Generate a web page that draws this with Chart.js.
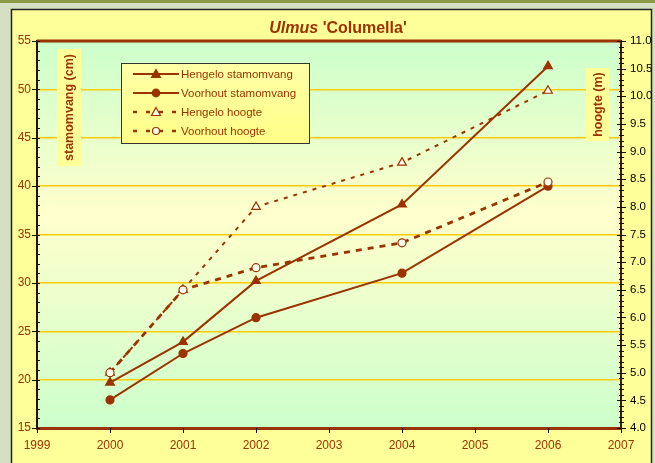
<!DOCTYPE html>
<html>
<head>
<meta charset="utf-8">
<title>Ulmus 'Columella'</title>
<script src="https://cdn.jsdelivr.net/npm/chart.js@4/dist/chart.umd.min.js"></script>
<style>
  body { margin: 0; background: #d6dfc1; }
  canvas { display: block; }
</style>
</head>
<body>
<canvas id="grafiek" width="655" height="463"></canvas>
<script>
// meetjaren en metingen per locatie
const jaren = [2000, 2001, 2002, 2004, 2006];
const hengeloStam = [19.7, 23.9, 30.2, 38.1, 52.4];     // cm
const voorhoutStam = [17.9, 22.7, 26.4, 31.0, 40.0];    // cm
const hengeloHoogte = [5.0, 6.5, 8.0, 8.8, 10.1];       // m
const voorhoutHoogte = [5.0, 6.5, 6.9, 7.35, 8.45];     // m

const xAs = { min: 1999, max: 2007, stap: 1 };
const stamAs = { min: 15, max: 55, stap: 5, klein: 1 };
const hoogteAs = { min: 4, max: 11, stap: 0.5, klein: 0.1 };

const BRUIN = '#993300';
const FONT = "'Liberation Sans', Arial, sans-serif";

function punten(waarden) {
    return jaren.map((jaar, i) => ({ x: jaar, y: waarden[i] }));
}

const series = [
    { label: 'Hengelo stamomvang', data: hengeloStam, as: 'y', vorm: 'triangle', open: false, stippel: [], dikte: 2 },
    { label: 'Voorhout stamomvang', data: voorhoutStam, as: 'y', vorm: 'circle', open: false, stippel: [], dikte: 2 },
    { label: 'Hengelo hoogte', data: hengeloHoogte, as: 'y2', vorm: 'triangle', open: true, stippel: [4, 6], dikte: 2 },
    { label: 'Voorhout hoogte', data: voorhoutHoogte, as: 'y2', vorm: 'circle', open: true, stippel: [6, 6], dikte: 2.8 }
];

// achtergrond, kader, titel, astitels, legenda en kleine streepjes
const kaderPlugin = {
    id: 'kader',
    beforeDraw(chart) {
        const ctx = chart.ctx;
        const ca = chart.chartArea;
        ctx.save();
        ctx.fillStyle = '#d6dfc1';
        ctx.fillRect(0, 0, chart.width, chart.height);
        ctx.fillStyle = '#8c9a46';
        ctx.fillRect(0, 0, chart.width, 3);

        ctx.fillStyle = '#ffff99';
        ctx.fillRect(11, 9, 641, chart.height);
        ctx.strokeStyle = '#222';
        ctx.lineWidth = 1.5;
        ctx.strokeRect(11.5, 9.5, 640, chart.height + 5);

        const grad = ctx.createLinearGradient(0, ca.top, 0, ca.bottom);
        grad.addColorStop(0, '#ccffcc');
        grad.addColorStop(0.45, '#ffffcc');
        grad.addColorStop(1, '#ccffcc');
        ctx.fillStyle = grad;
        ctx.fillRect(ca.left, ca.top, ca.right - ca.left, ca.bottom - ca.top);

        // titel: geslachtsnaam cursief
        const t1 = 'Ulmus';
        const t2 = " 'Columella'";
        ctx.fillStyle = BRUIN;
        ctx.textBaseline = 'alphabetic';
        ctx.font = 'italic bold 16px ' + FONT;
        const b1 = ctx.measureText(t1).width;
        ctx.font = 'bold 16px ' + FONT;
        const b2 = ctx.measureText(t2).width;
        let x = 338 - (b1 + b2) / 2;
        ctx.font = 'italic bold 16px ' + FONT;
        ctx.textAlign = 'left';
        ctx.fillText(t1, x, 33);
        ctx.font = 'bold 16px ' + FONT;
        ctx.fillText(t2, x + b1, 33);
        ctx.restore();
    },
    beforeDatasetsDraw(chart) {
        const ctx = chart.ctx;
        ctx.save();
        asTitel(ctx, 'stamomvang (cm)', 57, 49, 24, 117);
        asTitel(ctx, 'hoogte (m)', 586, 68, 23, 73);
        ctx.restore();
    },
    afterDraw(chart) {
        const ctx = chart.ctx;
        const ca = chart.chartArea;
        const y = chart.scales.y;
        const y2 = chart.scales.y2;
        const x = chart.scales.x;
        ctx.save();
        // bovenrand
        ctx.strokeStyle = BRUIN;
        ctx.lineWidth = 3;
        ctx.beginPath();
        ctx.moveTo(ca.left, ca.top);
        ctx.lineTo(ca.right, ca.top);
        ctx.stroke();

        ctx.strokeStyle = '#111';
        ctx.lineWidth = 1;
        ctx.beginPath();
        for (let v = stamAs.min; v <= stamAs.max + 1e-9; v += stamAs.klein) {
            const py = Math.round(y.getPixelForValue(v)) + 0.5;
            const groot = Math.abs(v / stamAs.stap - Math.round(v / stamAs.stap)) < 1e-6;
            ctx.moveTo(groot ? ca.left - 5 : ca.left, py);
            ctx.lineTo(ca.left + 3, py);
        }
        for (let i = 0; i <= Math.round((hoogteAs.max - hoogteAs.min) / hoogteAs.klein); i++) {
            const v = hoogteAs.min + i * hoogteAs.klein;
            const py = Math.round(y2.getPixelForValue(v)) + 0.5;
            const groot = i % 5 === 0;
            ctx.moveTo(groot ? ca.right - 4 : ca.right - 2, py);
            ctx.lineTo(groot ? ca.right + 5 : ca.right + 3, py);
        }
        for (let v = xAs.min; v <= xAs.max; v += xAs.stap) {
            const px = Math.round(x.getPixelForValue(v)) + 0.5;
            ctx.moveTo(px, ca.bottom);
            ctx.lineTo(px, ca.bottom + 5);
        }
        ctx.stroke();

        legenda(ctx, 121, 63);
        ctx.restore();
    }
};

function asTitel(ctx, tekst, x, y, b, h) {
    ctx.fillStyle = '#ffff99';
    ctx.fillRect(x, y, b, h);
    ctx.save();
    ctx.translate(x + b / 2, y + h / 2);
    ctx.rotate(-Math.PI / 2);
    ctx.fillStyle = BRUIN;
    ctx.font = 'bold 12.5px ' + FONT;
    ctx.textAlign = 'center';
    ctx.textBaseline = 'middle';
    ctx.fillText(tekst, 0, 1);
    ctx.restore();
}

function merkteken(ctx, vorm, open, x, y) {
    ctx.setLineDash([]);
    ctx.lineWidth = 1.2;
    ctx.strokeStyle = BRUIN;
    ctx.fillStyle = open ? '#ffffee' : BRUIN;
    ctx.beginPath();
    if (vorm === 'triangle') {
        ctx.moveTo(x, y - 4.5);
        ctx.lineTo(x + 4.5, y + 3.5);
        ctx.lineTo(x - 4.5, y + 3.5);
        ctx.closePath();
    } else {
        ctx.arc(x, y, open ? 3.5 : 3.8, 0, Math.PI * 2);
    }
    ctx.fill();
    ctx.stroke();
}

function legenda(ctx, x, y) {
    const grad = ctx.createLinearGradient(0, y, 0, y + 80);
    grad.addColorStop(0, '#ffffa8');
    grad.addColorStop(1, '#ffff88');
    ctx.fillStyle = grad;
    ctx.fillRect(x, y, 188, 80);
    ctx.strokeStyle = '#333';
    ctx.lineWidth = 1;
    ctx.strokeRect(x + 0.5, y + 0.5, 188, 80);

    ctx.font = '11.5px ' + FONT;
    ctx.textBaseline = 'middle';
    ctx.textAlign = 'left';
    series.forEach((s, i) => {
        const ry = y + 11 + i * 19;
        ctx.strokeStyle = BRUIN;
        ctx.lineWidth = s.open ? 2.5 : 2;
        ctx.setLineDash(s.open ? [4, 9] : []);
        ctx.beginPath();
        ctx.moveTo(x + 12, ry);
        ctx.lineTo(x + 58, ry);
        ctx.stroke();
        merkteken(ctx, s.vorm, s.open, x + 35, ry);
        ctx.fillStyle = BRUIN;
        ctx.fillText(s.label, x + 60, ry + 1);
    });
}

const datasets = series.map((s, i) => ({
    label: s.label,
    data: punten(s.data),
    yAxisID: s.as,
    order: 4 - i,
    borderColor: BRUIN,
    borderWidth: s.dikte,
    borderDash: s.stippel,
    backgroundColor: s.open ? '#ffffee' : BRUIN,
    pointStyle: s.vorm,
    pointRadius: s.vorm === 'triangle' ? 5 : 4,
    pointBorderWidth: 1.2,
    pointBorderColor: BRUIN,
    pointBackgroundColor: s.open ? '#ffffee' : BRUIN,
    tension: 0
}));

new Chart(document.getElementById('grafiek'), {
    type: 'line',
    data: { datasets: datasets },
    options: {
        responsive: false,
        animation: false,
        devicePixelRatio: 1,
        layout: { padding: { top: 41, left: 0, right: 0, bottom: 0 } },
        plugins: {
            legend: { display: false },
            title: { display: false },
            tooltip: { enabled: false }
        },
        scales: {
            x: {
                type: 'linear',
                min: xAs.min,
                max: xAs.max,
                afterFit(scale) { scale.height = 35; },
                grid: { drawOnChartArea: false, drawTicks: false },
                border: { color: BRUIN, width: 3 },
                ticks: {
                    stepSize: xAs.stap,
                    padding: 10,
                    color: BRUIN,
                    font: { family: FONT, size: 12 },
                    callback: v => String(v)
                }
            },
            y: {
                position: 'left',
                min: stamAs.min,
                max: stamAs.max,
                afterFit(scale) { scale.width = 37; },
                grid: { color: '#ffcc00', lineWidth: 1.5, drawTicks: false },
                border: { color: '#2a1200', width: 2 },
                ticks: {
                    stepSize: stamAs.stap,
                    padding: 6,
                    color: BRUIN,
                    font: { family: FONT, size: 12 }
                }
            },
            y2: {
                position: 'right',
                min: hoogteAs.min,
                max: hoogteAs.max,
                afterFit(scale) { scale.width = 34; },
                grid: { drawOnChartArea: false, drawTicks: false },
                border: { color: '#4a1a00', width: 2 },
                ticks: {
                    stepSize: hoogteAs.stap,
                    padding: 9,
                    color: '#000',
                    font: { family: FONT, size: 11.5 },
                    callback: v => v.toFixed(1)
                }
            }
        }
    },
    plugins: [kaderPlugin]
});
</script>
</body>
</html>
